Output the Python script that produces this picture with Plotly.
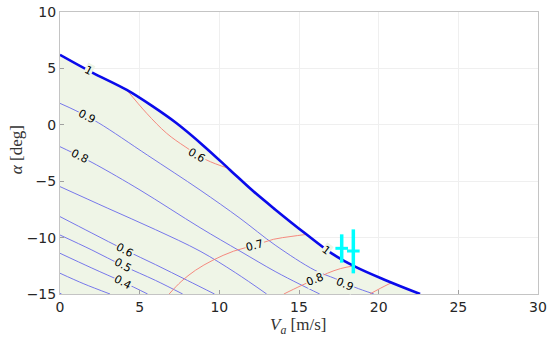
import plotly.graph_objects as go

# ---- data ----
# boundary contour (level 1)
bnd_v = [0, 2, 4.19, 5.8, 7.32, 9, 10.67, 12.1, 13.5, 15.38, 17.05, 18.52, 20.4, 22.6]
bnd_a = [6.2, 4.65, 3.09, 1.65, 0.13, -1.85, -4.0, -5.85, -7.5, -9.62, -11.4, -12.58, -13.76, -15]

# blue contours
b09_v = [0, 1.0, 2.4, 5.5, 8.79, 11.3, 13.5, 16.0, 17.3, 18.5, 19.7]
b09_a = [1.9, 1.25, 0.19, -2.7, -5.78, -8.29, -10.66, -12.9, -13.65, -14.4, -15]
b08_v = [0, 1.26, 2.3, 5.02, 8.79, 11.3, 13.5, 15.0, 16.3]
b08_a = [-1.94, -2.8, -3.56, -5.78, -9.12, -11.2, -13.0, -14.1, -15]
b07_v = [0, 3, 6, 8.79, 11.0, 12.97]
b07_a = [-5.48, -7.4, -9.3, -11.2, -13.1, -15]
b06_v = [0, 2, 4.08, 6, 8, 9.7]
b06_a = [-8.14, -9.6, -11.1, -12.4, -13.8, -15]
b05_v = [0, 2, 3.97, 6, 7.7]
b05_a = [-9.77, -11.1, -12.5, -13.8, -15]
b04_v = [0, 2, 3.97, 5.5]
b04_a = [-11.39, -12.7, -13.95, -15]
b03_v = [0, 1.5, 3.14]
b03_a = [-13.16, -14.1, -15]
b02_v = [0, 0.1]
b02_a = [-14.94, -15]

# red contours
r06_v = [4.19, 5.44, 6.7, 7.85, 9.2, 10.57]
r06_a = [3.09, 1.02, -0.76, -1.94, -3.12, -3.86]
r07_v = [6.85, 7.6, 8.5, 9.6, 10.9, 12.3, 13.4, 14.5, 15.45]
r07_a = [-15, -13.9, -12.9, -12.0, -11.2, -10.65, -10.15, -9.9, -9.72]
r08_v = [14.05, 15.07, 16.0, 16.8, 17.6, 18.45]
r08_a = [-15, -14.3, -13.7, -13.15, -12.75, -12.5]
r09_v = [19.45, 20.1, 20.8]
r09_a = [-15, -14.5, -14.0]

# contour labels
lab_text = ['1', '1', '0.9', '0.8', '0.6', '0.5', '0.4', '0.6', '0.7', '0.8', '0.9']
lab_v = [1.78, 16.74, 1.67, 1.26, 4.08, 3.97, 3.97, 8.58, 12.24, 16.0, 17.9]
lab_a = [4.8, -11.1, 0.72, -2.8, -11.1, -12.5, -13.95, -2.68, -10.74, -13.7, -14.14]
lab_ang = [28, 37, 27, 27, 28, 28, 28, 31, -15, -21, 24]

# measurements (cyan)
meas_v = [17.68, 18.41]
meas_a = [-10.95, -11.19]
meas_up = [1.24, 1.92]
meas_dn = [1.27, 1.98]

x_ticks = [0, 5, 10, 15, 20, 25, 30]
y_ticks = [-15, -10, -5, 0, 5, 10]
x_range = [0, 30]
y_range = [-15, 10]

# ---- styles ----
FILL = 'rgb(239,245,231)'
BLUE_THIN = 'rgb(105,105,235)'
RED = 'rgb(245,125,115)'
BLUE_THICK = 'rgb(10,10,235)'

fig = go.Figure()

# shaded feasible region
fig.add_trace(go.Scatter(
    x=bnd_v + [bnd_v[-1], x_range[0]],
    y=bnd_a + [y_range[0], y_range[0]],
    fill='toself', fillcolor=FILL, mode='none', hoverinfo='skip', showlegend=False))

for vv, aa in [(b09_v, b09_a), (b08_v, b08_a), (b07_v, b07_a), (b06_v, b06_a),
               (b05_v, b05_a), (b04_v, b04_a), (b03_v, b03_a), (b02_v, b02_a)]:
    fig.add_trace(go.Scatter(x=vv, y=aa, mode='lines', line=dict(color=BLUE_THIN, width=0.9, shape='spline'),
                             showlegend=False, hoverinfo='skip'))

for vv, aa in [(r06_v, r06_a), (r07_v, r07_a), (r08_v, r08_a), (r09_v, r09_a)]:
    fig.add_trace(go.Scatter(x=vv, y=aa, mode='lines', line=dict(color=RED, width=0.9, shape='spline'),
                             showlegend=False, hoverinfo='skip'))

fig.add_trace(go.Scatter(x=bnd_v, y=bnd_a, mode='lines', line=dict(color=BLUE_THICK, width=2.6, shape='spline'),
                         showlegend=False, hoverinfo='skip'))

fig.add_trace(go.Scatter(
    x=meas_v, y=meas_a, mode='markers',
    marker=dict(symbol='line-ew', size=9, line=dict(color='rgb(0,255,255)', width=3)),
    error_y=dict(type='data', array=meas_up, arrayminus=meas_dn, color='rgb(0,255,255)', thickness=3.5, width=0),
    showlegend=False, hoverinfo='skip'))

for t, x, y, ang in zip(lab_text, lab_v, lab_a, lab_ang):
    fig.add_annotation(x=x, y=y, text=t, textangle=ang, showarrow=False,
                       font=dict(family='DejaVu Sans', size=11, color='black'),
                       bgcolor=FILL, borderpad=0)

# axis titles
fig.add_annotation(xref='paper', yref='paper', x=0.498, y=0, yshift=-32, yanchor='middle',
                   text='<i>V</i><sub><i>a</i></sub> [m/s]', showarrow=False,
                   font=dict(family='Liberation Serif', size=17, color='#333333'))
fig.add_annotation(xref='paper', yref='paper', x=0, xshift=-44, y=0.51, xanchor='center', yanchor='middle',
                   text='<i>α</i> [deg]', textangle=-90, showarrow=False,
                   font=dict(family='Liberation Serif', size=17, color='#333333'))

axis_common = dict(showgrid=True, gridcolor='#efefef', gridwidth=1, zeroline=False, automargin=False,
                   showline=True, linecolor='#c4c4c4', linewidth=1, mirror=True,
                   ticks='inside', ticklen=4, tickcolor='#a0a0a0',
                   tickfont=dict(family='DejaVu Sans', size=14, color='#262626'))

fig.update_xaxes(range=x_range, tickvals=x_ticks, **axis_common)
fig.update_yaxes(range=y_range, tickvals=y_ticks, **axis_common)

fig.update_layout(width=550, height=341, margin=dict(l=60, r=12, t=12, b=47),
                  plot_bgcolor='white', paper_bgcolor='white')

fig.write_html('out.html', config={'displayModeBar': False},
               post_script="document.body.style.margin='0';")
